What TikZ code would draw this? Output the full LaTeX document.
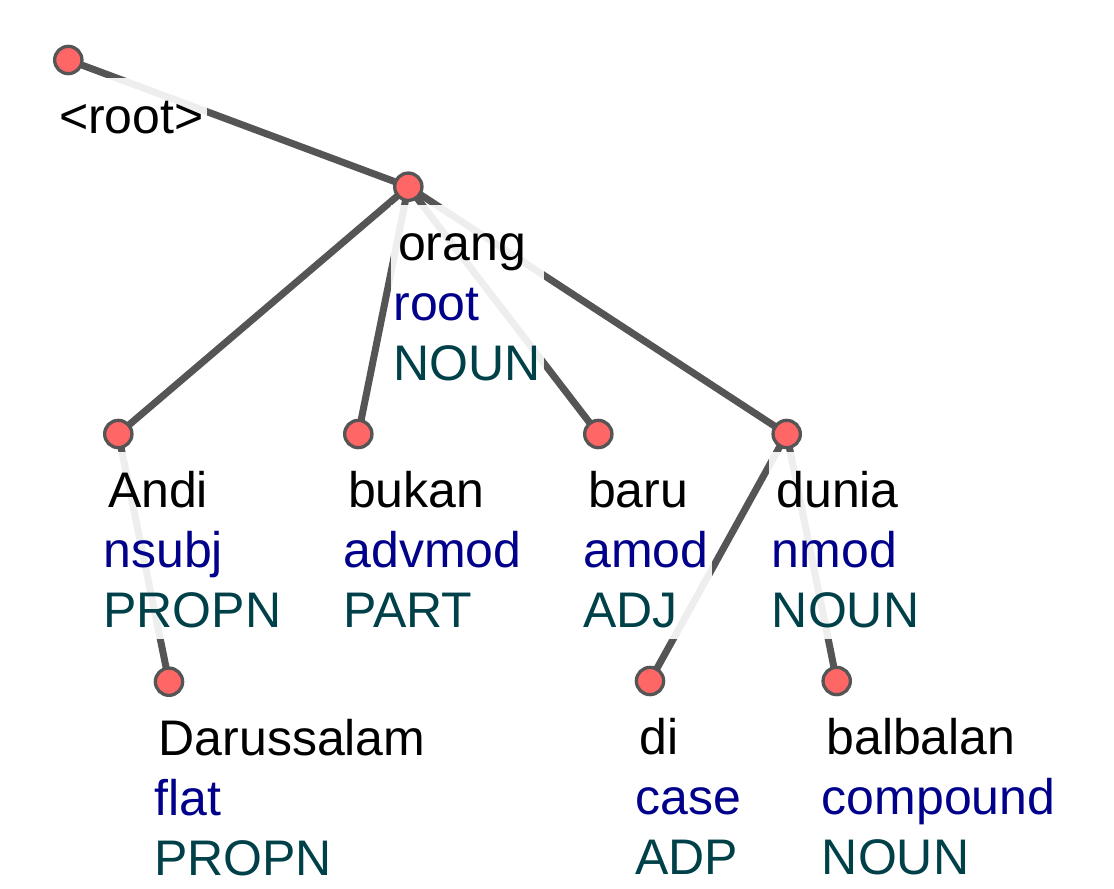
\documentclass[tikz,border=0pt]{standalone}
\usepackage{fontspec}
\setmainfont{Liberation Sans}
\usetikzlibrary{calc}
\definecolor{edgegray}{HTML}{555555}
\definecolor{nodered}{HTML}{FF6666}
\definecolor{deprel}{HTML}{00008B}
\definecolor{upos}{HTML}{004048}
\pgfdeclarelayer{edgelayer}
\pgfdeclarelayer{labellayer}
\pgfsetlayers{edgelayer,labellayer,main}
\newcommand\tokenlabel[3]{\hspace*{4.5pt}\rule{0pt}{55.5pt}#1\\\textcolor{deprel}{#2}\\\textcolor{upos}{#3}\rule[-11pt]{0pt}{11pt}}
\begin{document}
\begin{tikzpicture}[x=1pt,y=-1pt,
  tok/.style={circle,fill=nodered,draw=edgegray,line width=3.3pt,minimum size=27.3pt,inner sep=0pt},
  lab/.style={anchor=north west,inner xsep=3pt,inner ysep=0pt,align=left,fill=white,fill opacity=0.9,text opacity=1,font=\fontsize{50}{60}\selectfont},
  dep/.style={draw=edgegray,line width=7pt}]
\useasboundingbox (0,0) rectangle (1114,889);

\node[tok] (root) at (68.3,60) {};
\node[tok] (orang) at (408.3,186.7) {};
\node[tok] (Andi) at (118.3,434) {};
\node[tok] (bukan) at (358.3,434) {};
\node[tok] (baru) at (598.3,434) {};
\node[tok] (dunia) at (786.7,434) {};
\node[tok] (Darussalam) at (169,681.7) {};
\node[tok] (di) at (650,681) {};
\node[tok] (balbalan) at (836.7,681) {};

\begin{pgfonlayer}{labellayer}
\node[lab] (lroot) at ($(root)+(-17,18)$) {\hspace*{4.5pt}\rule{0pt}{55.5pt}<root>\rule[-11pt]{0pt}{11pt}};
\node[lab] (lorang) at ($(orang)+(-18,18)$) {\tokenlabel{orang}{root}{NOUN}};
\node[lab] (lAndi) at ($(Andi)+(-18,18)$) {\tokenlabel{Andi}{nsubj}{PROPN}};
\node[lab] (lbukan) at ($(bukan)+(-18,18)$) {\tokenlabel{bukan}{advmod}{PART}};
\node[lab] (lbaru) at ($(baru)+(-18,18)$) {\tokenlabel{baru}{amod}{ADJ}};
\node[lab] (ldunia) at ($(dunia)+(-18,18)$) {\tokenlabel{dunia}{nmod}{NOUN}};
\node[lab] (lDarussalam) at ($(Darussalam)+(-18,18)$) {\tokenlabel{Darussalam}{flat}{PROPN}};
\node[lab] (ldi) at ($(di)+(-18,18)$) {\tokenlabel{di}{case}{ADP}};
\node[lab] (lbalbalan) at ($(balbalan)+(-18,18)$) {\tokenlabel{balbalan}{compound}{NOUN}};
\end{pgfonlayer}

\begin{pgfonlayer}{edgelayer}
\draw[dep] (root.center) -- (orang.center);
\draw[dep] (orang.center) -- (Andi.center);
\draw[dep] (orang.center) -- (bukan.center);
\draw[dep] (orang.center) -- (baru.center);
\draw[dep] (orang.center) -- (dunia.center);
\draw[dep] (Andi.center) -- (Darussalam.center);
\draw[dep] (dunia.center) -- (di.center);
\draw[dep] (dunia.center) -- (balbalan.center);
\end{pgfonlayer}
\end{tikzpicture}
\end{document}
